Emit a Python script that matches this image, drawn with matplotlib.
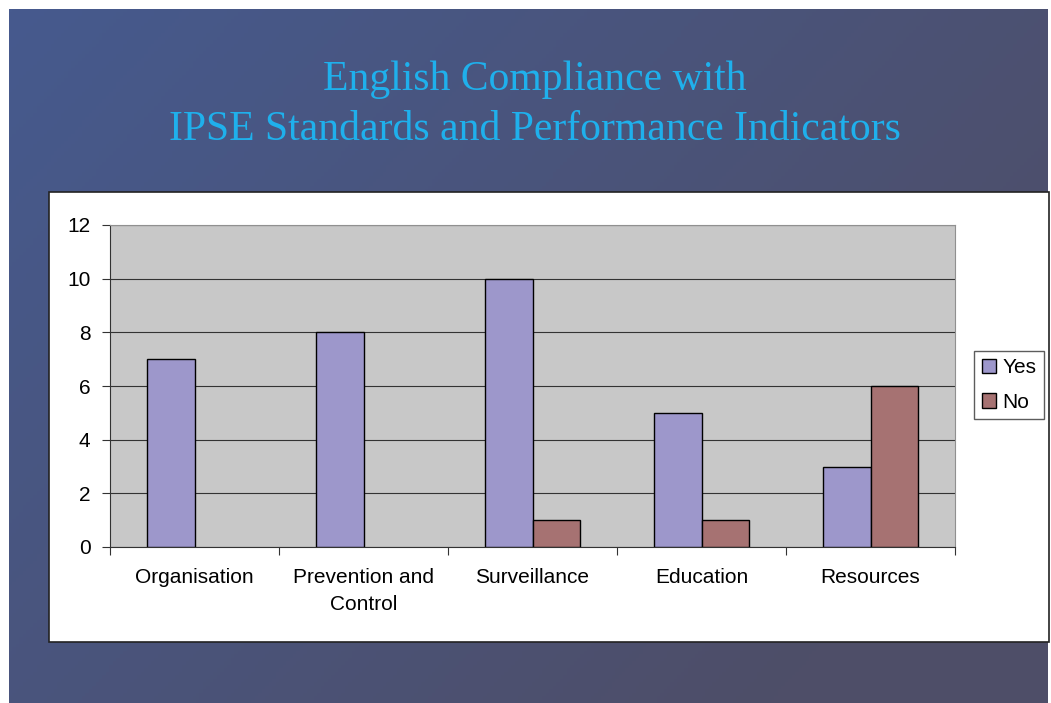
import matplotlib
matplotlib.use('Agg')
import matplotlib.pyplot as plt
from matplotlib.patches import Rectangle, Patch
import numpy as np

categories = ['Organisation', 'Prevention and\nControl', 'Surveillance', 'Education', 'Resources']
yes_vals = [7, 8, 10, 5, 3]
no_vals = [0, 0, 1, 1, 6]
y_ticks = [0, 2, 4, 6, 8, 10, 12]
series_names = ['Yes', 'No']
series_colors = ['#9D97CB', '#A67272']

W, H = 1051, 703
fig = plt.figure(figsize=(W / 100, H / 100), dpi=100, facecolor='white')

# slide background with a soft diagonal gradient
bg = fig.add_axes([9 / W, 0, (1048 - 9) / W, (703 - 9) / H])
bg.set_axis_off()
yy, xx = np.mgrid[0:1:200j, 0:1:300j]
t = np.clip(0.75 * xx + 0.45 * yy, 0, 1)
c0 = np.array([70, 90, 142]) / 255
c1 = np.array([78, 78, 104]) / 255
img = c0[None, None, :] * (1 - t[..., None]) + c1[None, None, :] * t[..., None]
bg.imshow(img, aspect='auto', extent=[0, 1, 0, 1], origin='upper')
bg.set_xlim(0, 1)
bg.set_ylim(0, 1)

fig.text(535 / W, 1 - 80 / H, 'English Compliance with', ha='center', va='center',
         fontsize=30, family='Liberation Serif', color='#1FB0EC')
fig.text(535 / W, 1 - 130 / H, 'IPSE Standards and Performance Indicators', ha='center',
         va='center', fontsize=30, family='Liberation Serif', color='#1FB0EC')

# white chart box
fig.patches.append(Rectangle((49 / W, 1 - 642 / H), (1049 - 49) / W, (642 - 192) / H,
                             transform=fig.transFigure, facecolor='white',
                             edgecolor='#222222', linewidth=1.2, zorder=1))

ax = fig.add_axes([110 / W, 1 - 547 / H, (955 - 110) / W, (547 - 225) / H], zorder=2)
ax.set_facecolor('#C8C8C8')
x = np.arange(len(categories))
bw = 0.284
b1 = ax.bar(x - bw / 2, yes_vals, bw, color=series_colors[0], edgecolor='black',
            linewidth=1, zorder=3)
b2 = ax.bar(x + bw / 2, no_vals, bw, color=series_colors[1], edgecolor='black',
            linewidth=1, zorder=3)
# empty bars leave no trace on the axis
for bars, vals in [(b1, yes_vals), (b2, no_vals)]:
    for p, v in zip(bars.patches, vals):
        if v == 0:
            p.set_visible(False)

ax.set_xlim(-0.5, len(categories) - 0.5)
ax.set_ylim(0, 12)
ax.set_yticks(y_ticks)
ax.set_yticklabels([str(v) for v in y_ticks], fontsize=15, family='Liberation Sans')
ax.yaxis.grid(True, color='#333333', linewidth=0.8, zorder=0)
ax.set_axisbelow(True)

ax.set_xticks(np.arange(len(categories) + 1) - 0.5)
ax.set_xticklabels([])
ax.set_xticks(x, minor=True)
ax.set_xticklabels(categories, minor=True, fontsize=15, family='Liberation Sans',
                   linespacing=1.55)
ax.tick_params(axis='x', which='minor', length=0, pad=15)
ax.tick_params(axis='x', which='major', length=6, direction='out', color='#333333')
ax.tick_params(axis='y', length=6, direction='out', color='#333333', pad=8)

for side in ['left', 'bottom']:
    ax.spines[side].set_color('#333333')
for side in ['top', 'right']:
    ax.spines[side].set_color('#909090')

handles = [Patch(facecolor=c, edgecolor='black', linewidth=1) for c in series_colors]
leg = fig.legend(handles, series_names, loc='center', bbox_to_anchor=(1009 / W, 1 - 385 / H),
                 prop={'family': 'Liberation Sans', 'size': 15}, frameon=True,
                 fancybox=False, edgecolor='#333333', handlelength=0.7,
                 handleheight=0.7, handletextpad=0.3, borderpad=0.35,
                 labelspacing=0.75, borderaxespad=0)
leg.get_frame().set_linewidth(1)
leg.set_zorder(5)

fig.savefig('out.png', dpi=100, facecolor='white')
